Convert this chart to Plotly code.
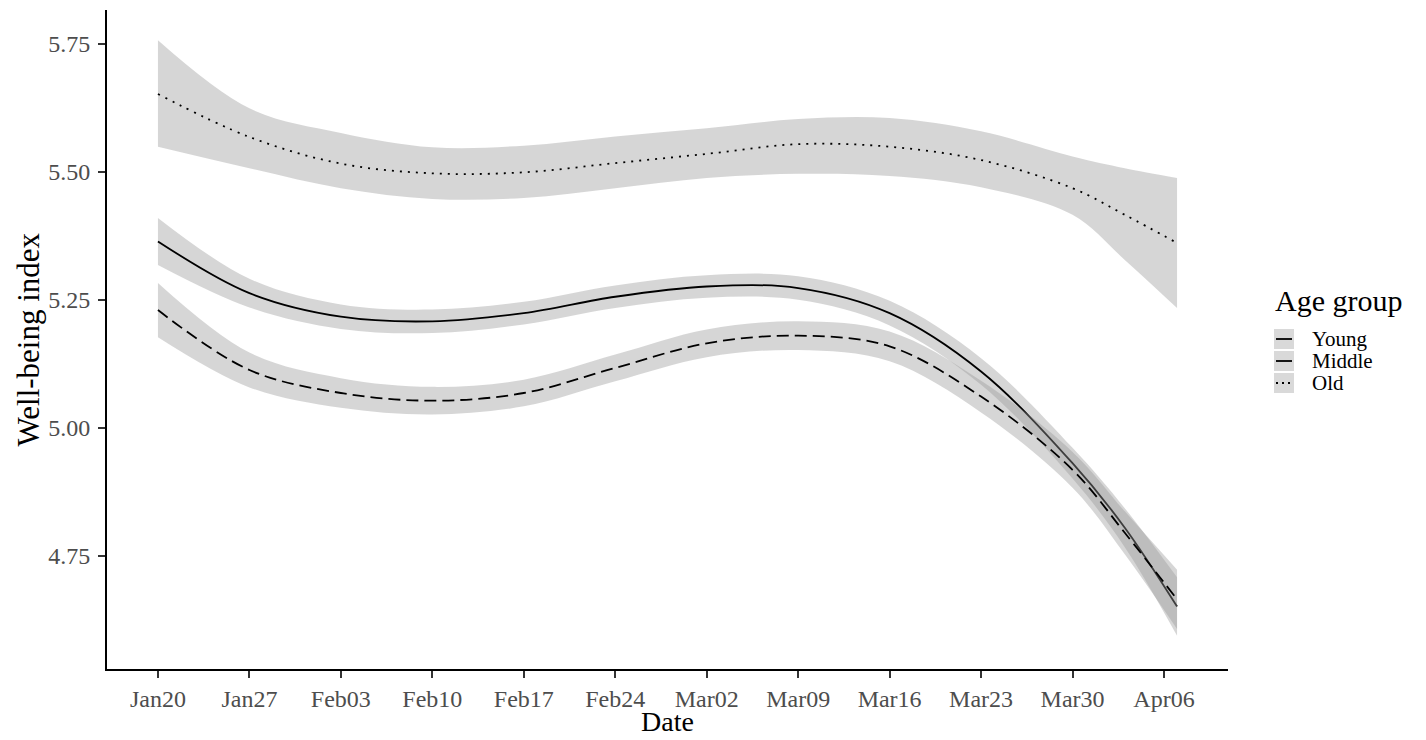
import plotly.graph_objects as go

# ---------------- data ----------------
dates = ["2020-01-20", "2020-01-27", "2020-02-03", "2020-02-10", "2020-02-17",
         "2020-02-24", "2020-03-02", "2020-03-09", "2020-03-16", "2020-03-23",
         "2020-03-30", "2020-04-03", "2020-04-07"]

young_fit = [5.364, 5.263, 5.217, 5.208, 5.224, 5.256, 5.276, 5.273, 5.224, 5.110, 4.931, 4.805, 4.651]
young_lo  = [5.318, 5.235, 5.193, 5.185, 5.202, 5.234, 5.254, 5.250, 5.200, 5.084, 4.901, 4.767, 4.594]
young_hi  = [5.410, 5.291, 5.241, 5.231, 5.246, 5.278, 5.298, 5.296, 5.248, 5.136, 4.961, 4.843, 4.708]

middle_fit = [5.230, 5.113, 5.068, 5.053, 5.068, 5.117, 5.165, 5.180, 5.159, 5.061, 4.918, 4.795, 4.665]
middle_lo  = [5.177, 5.079, 5.039, 5.026, 5.042, 5.091, 5.138, 5.152, 5.130, 5.030, 4.883, 4.753, 4.607]
middle_hi  = [5.283, 5.147, 5.097, 5.080, 5.094, 5.143, 5.192, 5.208, 5.188, 5.092, 4.953, 4.837, 4.723]

old_fit = [5.652, 5.568, 5.516, 5.497, 5.499, 5.517, 5.535, 5.554, 5.549, 5.523, 5.468, 5.416, 5.361]
old_lo  = [5.549, 5.507, 5.468, 5.447, 5.449, 5.468, 5.488, 5.496, 5.492, 5.470, 5.416, 5.328, 5.234]
old_hi  = [5.757, 5.624, 5.576, 5.548, 5.551, 5.569, 5.585, 5.603, 5.605, 5.579, 5.530, 5.507, 5.488]

groups = ["Young", "Middle", "Old"]

x_tick_vals = ["2020-01-20", "2020-01-27", "2020-02-03", "2020-02-10", "2020-02-17", "2020-02-24",
               "2020-03-02", "2020-03-09", "2020-03-16", "2020-03-23", "2020-03-30", "2020-04-06"]
x_tick_labels = ["Jan20", "Jan27", "Feb03", "Feb10", "Feb17", "Feb24",
                 "Mar02", "Mar09", "Mar16", "Mar23", "Mar30", "Apr06"]
y_tick_vals = [4.75, 5.00, 5.25, 5.50, 5.75]
y_tick_labels = ["4.75", "5.00", "5.25", "5.50", "5.75"]

x_title = "Date"
y_title = "Well-being index"
legend_title = "Age group"

# ---------------- styles ----------------
FONT = "Liberation Serif, Times New Roman, serif"
RIBBON = "rgba(153,153,153,0.4)"
dashes = {"Young": "solid", "Middle": "12px,6px", "Old": "2px,6px"}
series = {
    "Young": (young_fit, young_lo, young_hi),
    "Middle": (middle_fit, middle_lo, middle_hi),
    "Old": (old_fit, old_lo, old_hi),
}

fig = go.Figure()

for g in groups:
    fit, lo, hi = series[g]
    fig.add_trace(go.Scatter(x=dates, y=lo, mode="lines",
                             line=dict(width=0, shape="spline", smoothing=1.0),
                             hoverinfo="skip", showlegend=False))
    fig.add_trace(go.Scatter(x=dates, y=hi, mode="lines", fill="tonexty",
                             fillcolor=RIBBON,
                             line=dict(width=0, shape="spline", smoothing=1.0),
                             hoverinfo="skip", showlegend=False))
    fig.add_trace(go.Scatter(x=dates, y=fit, mode="lines", name=g,
                             line=dict(color="black", width=1.8, dash=dashes[g],
                                       shape="spline", smoothing=1.0),
                             showlegend=False))

# The page body has an 8px margin, so the figure sits 8px right/down of the window corner.
OFF = 8
W, H = 1426 - OFF, 740 - OFF
# plot area in window pixels
SL, SR, ST, SB = 107, 1228, 10, 669
L, R, T, B = SL - OFF, SR - OFF, ST - OFF, SB - OFF


def px(x):  # window pixel -> paper x
    return (x - OFF - L) / (R - L)


def py(y):  # window pixel -> paper y
    return (B - (y - OFF)) / (B - T)


shapes = []
annotations = []

# axis titles
annotations.append(dict(x=px((SL + SR) / 2), y=py(722), xref="paper", yref="paper",
                        text=x_title, showarrow=False, xanchor="center", yanchor="middle",
                        borderpad=0,
                        font=dict(family=FONT, size=28, color="black")))
annotations.append(dict(x=px(28), y=py((ST + SB) / 2), xref="paper", yref="paper",
                        text=y_title, showarrow=False, textangle=-90,
                        xanchor="center", yanchor="middle",
                        font=dict(family=FONT, size=31, color="black")))

# manual ggplot-style legend
annotations.append(dict(x=px(1273), y=py(301), xref="paper", yref="paper",
                        text=legend_title, showarrow=False, xanchor="left", yanchor="middle",
                        font=dict(family=FONT, size=30, color="black")))
item_y = [339, 361, 383]
for g, cy in zip(groups, item_y):
    shapes.append(dict(type="rect", xref="paper", yref="paper",
                       x0=px(1274), x1=px(1294), y0=py(cy + 10), y1=py(cy - 10),
                       fillcolor="#D9D9D9", line=dict(width=0)))
    shapes.append(dict(type="line", xref="paper", yref="paper",
                       x0=px(1276), x1=px(1292), y0=py(cy), y1=py(cy),
                       line=dict(color="black", width=1.8,
                                 dash=("2px,4px" if g == "Old" else "solid"))))
    annotations.append(dict(x=px(1311), y=py(cy), xref="paper", yref="paper",
                            text=g, showarrow=False, xanchor="left", yanchor="middle",
                            borderpad=0,
                            font=dict(family=FONT, size=21, color="black")))

fig.update_layout(
    width=W, height=H,
    margin=dict(l=L, r=W - R, t=T, b=H - B, autoexpand=False),
    paper_bgcolor="white", plot_bgcolor="white",
    font=dict(family=FONT, color="black"),
    shapes=shapes, annotations=annotations,
    showlegend=False,
)

fig.update_xaxes(
    type="date",
    range=["2020-01-16 02:24", "2020-04-10 21:36"],
    tickvals=x_tick_vals, ticktext=x_tick_labels,
    showgrid=False, zeroline=False,
    showline=True, linecolor="black", linewidth=2,
    ticks="outside", ticklen=7, tickwidth=2, tickcolor="#333333",
    tickfont=dict(family=FONT, size=24, color="#4D4D4D"),
    ticklabelstandoff=0,
    automargin=False,
)
fig.update_yaxes(
    range=[4.529, 5.816],
    tickvals=y_tick_vals, ticktext=y_tick_labels,
    showgrid=False, zeroline=False,
    showline=True, linecolor="black", linewidth=2,
    ticks="outside", ticklen=7, tickwidth=2, tickcolor="#333333",
    tickfont=dict(family=FONT, size=24, color="#4D4D4D"),
    ticklabelstandoff=3,
    automargin=False,
)

fig.write_html("out.html")
